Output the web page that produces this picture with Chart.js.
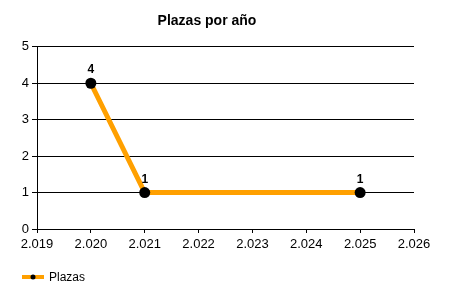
<!DOCTYPE html>
<html><head><meta charset="utf-8">
<script src="https://cdn.jsdelivr.net/npm/chart.js@4/dist/chart.umd.min.js"></script>
<style>html,body{margin:0;padding:0;background:#fff}#w{width:450px;height:300px}</style>
</head><body><div id="w"><canvas id="c"></canvas></div>
<script>
const years = [2020, 2021, 2025];
const plazas = [4, 1, 1];
const seriesLabel = 'Plazas';
const titleText = 'Plazas por año';
const xMin = 2019, xMax = 2026;
const yMin = 0, yMax = 5;

const FONT = '"Liberation Sans", Arial, sans-serif';
const ORANGE = '#FFA000';

const labelsPlugin = {
  id: 'lbls',
  afterDatasetsDraw(chart) {
    const ctx = chart.ctx;
    const meta = chart.getDatasetMeta(0);
    ctx.save();
    ctx.font = 'bold 12px ' + FONT;
    ctx.fillStyle = '#000';
    ctx.textAlign = 'center';
    ctx.textBaseline = 'alphabetic';
    meta.data.forEach((p, i) => {
      ctx.fillText(String(chart.data.datasets[0].data[i].y), p.x, p.y - 10);
    });
    ctx.restore();
  },
  afterDraw(chart) {
    const ctx = chart.ctx;
    ctx.save();
    const y = 277;
    ctx.strokeStyle = ORANGE;
    ctx.lineWidth = 4;
    ctx.beginPath(); ctx.moveTo(22, y); ctx.lineTo(44, y); ctx.stroke();
    ctx.fillStyle = '#000';
    ctx.beginPath(); ctx.arc(33, y, 2.5, 0, Math.PI * 2); ctx.fill();
    ctx.font = '12px ' + FONT;
    ctx.textBaseline = 'middle';
    ctx.textAlign = 'left';
    ctx.fillText(chart.data.datasets[0].label, 49, y + 1);
    ctx.restore();
  }
};

new Chart(document.getElementById('c'), {
  type: 'line',
  data: {
    datasets: [{
      label: seriesLabel,
      data: years.map((x, i) => ({x: x, y: plazas[i]})),
      borderColor: ORANGE,
      backgroundColor: '#000',
      borderWidth: 5,
      pointRadius: 5.5,
      pointBackgroundColor: '#000',
      pointBorderColor: '#000',
      pointBorderWidth: 0,
      tension: 0,
      fill: false
    }]
  },
  options: {
    responsive: true,
    maintainAspectRatio: false,
    animation: false,
    layout: { padding: { left: 0, right: 36, top: 0, bottom: 0 } },
    plugins: {
      legend: { display: false },
      tooltip: { enabled: false },
      title: {
        display: true, text: titleText, color: '#000',
        font: { family: FONT, size: 14, weight: 'bold' },
        padding: { top: 13, bottom: 17 }
      }
    },
    scales: {
      x: {
        type: 'linear', min: xMin, max: xMax,
        afterFit(s) { s.height = 71; },
        ticks: {
          stepSize: 1, color: '#000', padding: 4,
          font: { family: FONT, size: 13 },
          callback: v => (v / 1000).toFixed(3)
        },
        grid: { display: true, drawOnChartArea: false, color: '#000', tickLength: 4, lineWidth: 1 },
        border: { display: true, color: '#000', width: 1 }
      },
      y: {
        min: yMin, max: yMax,
        afterFit(s) { s.width = 37; },
        ticks: { stepSize: 1, color: '#000', padding: 3, font: { family: FONT, size: 13 } },
        grid: { color: '#000', tickLength: 5, lineWidth: 1 },
        border: { display: true, color: '#000', width: 1 }
      }
    }
  },
  plugins: [labelsPlugin]
});
</script></body></html>
